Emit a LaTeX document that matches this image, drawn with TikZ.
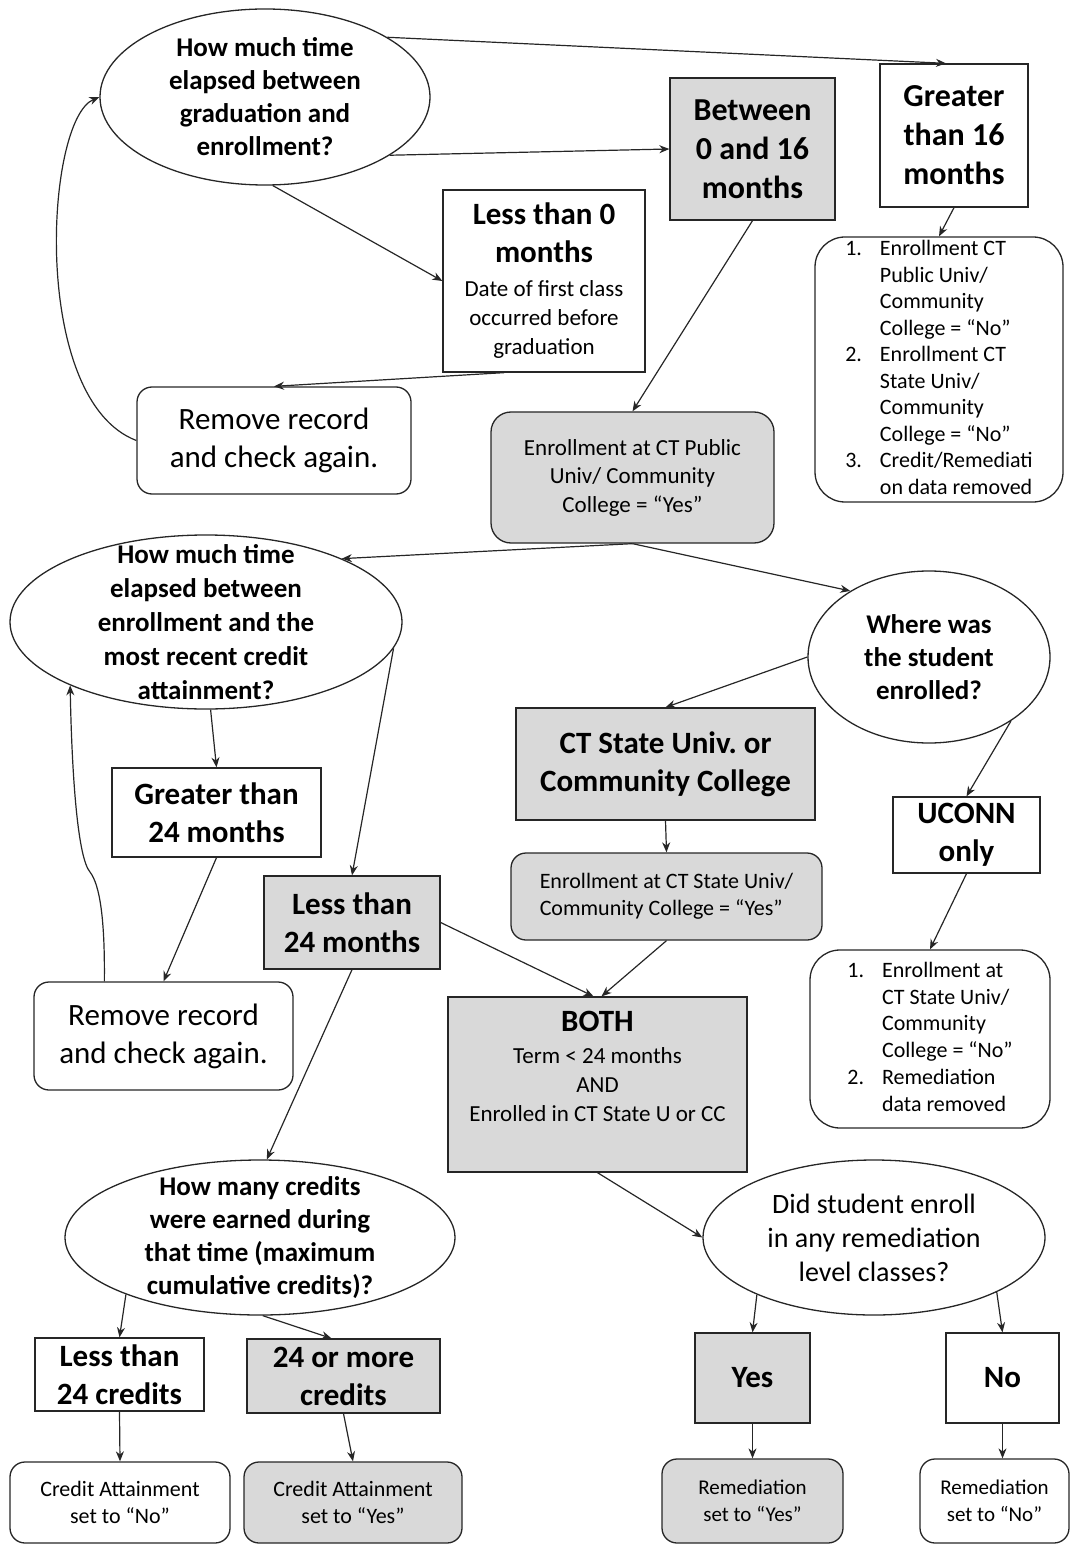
\documentclass[tikz,border=0pt]{standalone}
\usepackage{fontspec}
\setmainfont{Carlito}
\usetikzlibrary{arrows.meta, positioning, shapes.geometric, calc}
\definecolor{boxgray}{HTML}{D9D9D9}
\definecolor{linegray}{HTML}{262626}
\newcommand{\fsz}[2]{\fontsize{#1}{#2}\selectfont}

\begin{document}
\begin{tikzpicture}[
  x=0.5pt, y=-0.5pt,
  question/.style={ellipse, draw=linegray, line width=0.65pt, inner xsep=-60pt, inner ysep=-40pt, align=center, font=\bfseries\fsz{13.5}{16.5}},
  choice/.style={rectangle, draw=linegray, line width=0.65pt, inner sep=0pt, align=center, font=\bfseries\fsz{15.5}{19}},
  outcome/.style={rectangle, draw=linegray, line width=0.65pt, rounded corners=7.5pt, inner sep=0pt, align=center, font=\fsz{11}{13.5}},
  grey/.style={fill=boxgray},
  arrow/.style={-{Stealth[length=5pt, width=4pt, inset=1.6pt]}, draw=linegray, line width=0.6pt}
]
\useasboundingbox (0,0) rectangle (1071,1545);

% First question: graduation to enrollment
\node[question, minimum width=165pt, minimum height=88pt] (q1) at (265,97) {How much time\\elapsed between\\graduation and\\enrollment?};
\node[choice, grey, font=\bfseries\fsz{16}{19.5}, minimum width=82.5pt, minimum height=71pt] (btw) at (752.5,149) {Between\\0 and 16\\months};
\node[choice, font=\bfseries\fsz{16}{19.5}, minimum width=74pt, minimum height=71.5pt] (gt16) at (954,135.5) {Greater\\than 16\\months};
\node[choice, minimum width=101pt, minimum height=91pt] (lt0) at (544,281) {\begin{minipage}{100pt}\centering{\bfseries\fsz{15.5}{19}Less than 0\\months\par}\vspace{2.5pt}{\normalfont\fsz{11.5}{14.5}Date of first class\\occurred before\\graduation\par}\end{minipage}};
\node[outcome, font=\fsz{15.5}{19}, minimum width=137pt, minimum height=53.5pt] (rm1) at (274,440.5) {Remove record\\and check again.};
\node[outcome, grey, rounded corners=10pt, font=\fsz{11.5}{14.25}, minimum width=141.5pt, minimum height=65.5pt] (pub) at (632.5,477.5) {Enrollment at CT Public\\Univ/ Community\\College = “Yes”};
\node[outcome, rounded corners=15pt, minimum width=124pt, minimum height=132.5pt] (lst1) at (939,369.5) {\fsz{11}{13.25}\begin{tabular}{@{}l@{\hspace{9pt}}l@{}}
1. & Enrollment CT\\ & Public Univ/\\ & Community\\ & College = “No”\\
2. & Enrollment CT\\ & State Univ/\\ & Community\\ & College = “No”\\
3. & Credit/Remediati\\ & on data removed\end{tabular}};

% Second question: credit attainment
\node[question, font=\bfseries\fsz{13.5}{17}, minimum width=196pt, minimum height=87pt] (q2) at (206,622) {How much time\\elapsed between\\enrollment and the\\most recent credit\\attainment?};
\node[choice, minimum width=104.5pt, minimum height=44.5pt] (gt24) at (216.5,812.5) {Greater than\\24 months};
\node[choice, grey, minimum width=88pt, minimum height=46.5pt] (lt24) at (352,922.5) {Less than\\24 months};
\node[outcome, font=\fsz{15.5}{19}, minimum width=129.5pt, minimum height=54pt] (rm2) at (163.5,1036) {Remove record\\and check again.};

% Institution
\node[question, minimum width=121pt, minimum height=86pt] (where) at (929,657) {Where was\\the student\\enrolled?};
\node[choice, grey, minimum width=149.5pt, minimum height=56pt] (ctsu) at (665.5,764) {CT State Univ.\ or\\Community College};
\node[outcome, grey, align=left, minimum width=155.5pt, minimum height=43.5pt] (enrct) at (666.5,896.5) {Enrollment at CT State Univ/\\Community College = “Yes”};
\node[choice, minimum width=73.5pt, minimum height=38pt] (uconn) at (966.5,835) {UCONN\\only};
\node[outcome, rounded corners=15pt, minimum width=120pt, minimum height=89pt] (lst2) at (930,1039) {\fsz{11}{13.4}\begin{tabular}{@{}l@{\hspace{9pt}}l@{}}
1. & Enrollment at\\ & CT State Univ/\\ & Community\\ & College = “No”\\
2. & Remediation\\ & data removed\end{tabular}};
\node[choice, grey, minimum width=149.5pt, minimum height=87.5pt] (both) at (597.5,1084.5) {\begin{minipage}[c][87.5pt][t]{145pt}\centering\vspace*{7pt}{\bfseries\fsz{15.5}{19}BOTH\par}\vspace{1.5pt}{\normalfont\fsz{11.5}{14.5}Term < 24 months\\AND\\Enrolled in CT State U or CC\par}\end{minipage}};

% Credits and remediation
\node[question, minimum width=195pt, minimum height=77.5pt] (q3) at (260,1237.5) {How many credits\\were earned during\\that time (maximum\\cumulative credits)?};
\node[question, font=\fsz{14}{17}, minimum width=171pt, minimum height=77.5pt] (did) at (874,1237.5) {Did student enroll\\in any remediation\\level classes?};
\node[choice, minimum width=84.5pt, minimum height=36.5pt] (lt24cr) at (119.5,1374.5) {Less than\\24 credits};
\node[choice, grey, minimum width=96.5pt, minimum height=37pt] (ge24cr) at (343.5,1376) {24 or more\\credits};
\node[choice, grey, minimum width=57.5pt, minimum height=45pt] (yes) at (752.5,1378) {Yes};
\node[choice, minimum width=56.5pt, minimum height=45pt] (no) at (1002.5,1378) {No};
\node[outcome, minimum width=110pt, minimum height=40.5pt] (crno) at (120,1502.5) {Credit Attainment\\set to “No”};
\node[outcome, grey, minimum width=109pt, minimum height=40.5pt] (cryes) at (353,1502.5) {Credit Attainment\\set to “Yes”};
\node[outcome, grey, font=\fsz{10.5}{13.5}, minimum width=90.5pt, minimum height=42pt] (remyes) at (752.5,1501) {Remediation\\set to “Yes”};
\node[outcome, font=\fsz{10.5}{13.5}, minimum width=74.5pt, minimum height=42pt] (remno) at (994.5,1501) {Remediation\\set to “No”};

% Connectors
\draw[arrow] (q1.26) -- ($(gt16.north)+(-8,0)$);
\draw[arrow] (q1.-25) -- (btw.west);
\draw[arrow] (q1.-85) -- (lt0.west);
\draw[arrow] ($(lt0.south)+(-40,0)$) -- (rm1.north);
\draw[arrow] (rm1.west) .. controls (30,400) and (45,120) .. (q1.west);
\draw[arrow] (btw.south) -- (pub.north);
\draw[arrow] (gt16.south) -- (lst1.north);
\draw[arrow] (pub.south) -- (q2.25);
\draw[arrow] (pub.south) -- (where.140);
\draw[arrow] (where.west) -- (ctsu.north);
\draw[arrow] (where.-38) -- (uconn.north);
\draw[arrow] (ctsu.south) -- (enrct.north);
\draw[arrow] (uconn.south) -- (lst2.north);
\draw[arrow] (enrct.south) -- ($(both.north)+(4,0)$);
\draw[arrow] (lt24.east) -- ($(both.north)+(-4,0)$);
\draw[arrow] (q2.-87) -- (gt24.north);
\draw[arrow] (q2.-8) -- (lt24.north);
\draw[arrow] (gt24.south) -- (rm2.north);
\draw[arrow] ($(rm2.north west)+(71,0)$) .. controls (105,920) and (100,885) .. (90,872) .. controls (78,858) and (72,780) .. (q2.-155);
\draw[arrow] (lt24.south) -- (q3.85);
\draw[arrow] (both.south) -- (did.west);
\draw[arrow] (q3.-157) -- (lt24cr.north);
\draw[arrow] (q3.-88) -- ($(ge24cr.north)+(-12,0)$);
\draw[arrow] (lt24cr.south) -- (crno.north);
\draw[arrow] (ge24cr.south) -- (cryes.north);
\draw[arrow] (did.-154) -- (yes.north);
\draw[arrow] (did.-24) -- (no.north);
\draw[arrow] (yes.south) -- (remyes.north);
\draw[arrow] (no.south) -- (no.south |- remno.north);
\end{tikzpicture}
\end{document}
